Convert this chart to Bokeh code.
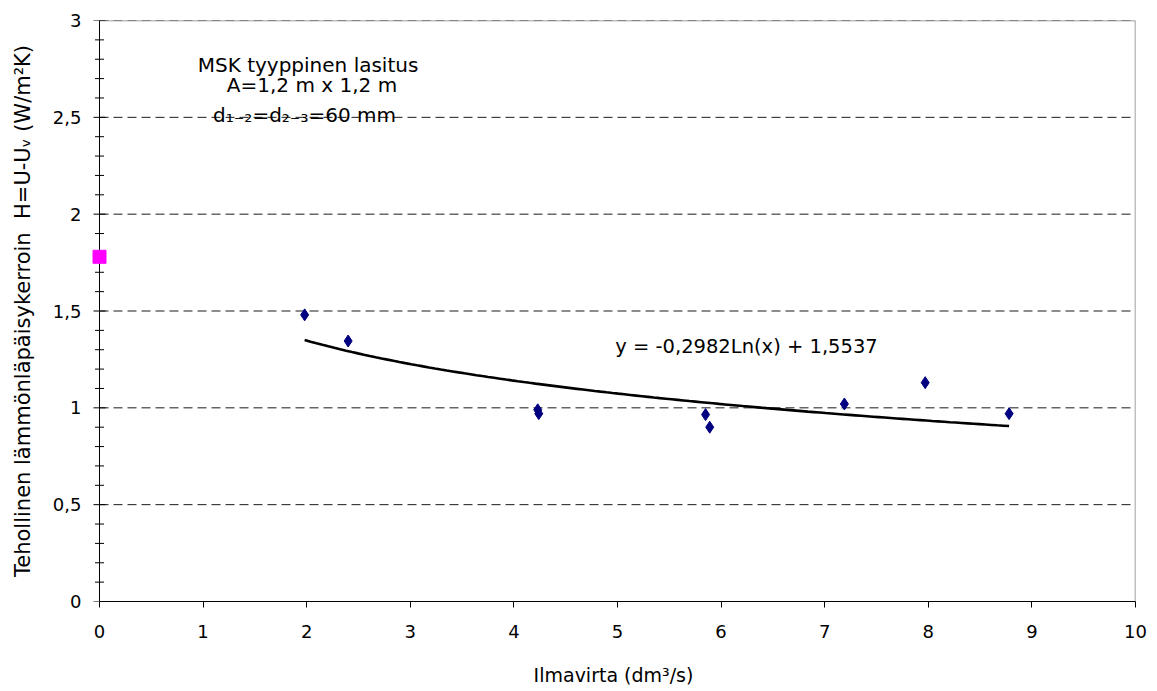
import numpy as np
from bokeh.plotting import figure
from bokeh.models import Range1d, SingleIntervalTicker, CustomJSTickFormatter
from bokeh.core.properties import value
from bokeh.embed import file_html
from bokeh.resources import INLINE

# ---- data ----
airflow = [1.98, 2.40, 4.23, 4.24, 5.85, 5.89, 7.19, 7.97, 8.78]          # dm3/s
h_value = [1.48, 1.345, 0.99, 0.97, 0.965, 0.90, 1.02, 1.13, 0.97]       # W/m2K
ref_airflow = [0.0]
ref_h = [1.78]
trend_slope = -0.2982      # y = a*Ln(x) + b
trend_intercept = 1.5537
x_min, x_max, x_step = 0, 10, 1
y_min, y_max, y_step, y_minor = 0, 3, 0.5, 0.1
note_lines = ["MSK tyyppinen lasitus", "A=1,2 m x 1,2 m", "d\u2081\u208b\u2082=d\u2082\u208b\u2083=60 mm"]
equation_text = "y = -0,2982Ln(x) + 1,5537"
x_title = "Ilmavirta (dm\u00b3/s)"
y_title = "Tehollinen lämmönläpäisykerroin \u00a0H=U-U\u1d65 (W/m\u00b2K)"

FONT = "DejaVu Sans"

# layout (pixels)
AXIS_LEFT_PX, AXIS_RIGHT_PX = 99, 1135
PAD_PX = 8   # small strip left of the y axis so the x=0 marker is not clipped
px_per_unit = (AXIS_RIGHT_PX - AXIS_LEFT_PX) / (x_max - x_min)
x_start = x_min - PAD_PX / px_per_unit

p = figure(width=1157, height=691, output_backend="svg", toolbar_location=None,
           x_range=Range1d(x_start, x_max), y_range=Range1d(y_min, y_max),
           min_border_left=AXIS_LEFT_PX - PAD_PX, min_border_right=1157 - AXIS_RIGHT_PX,
           min_border_top=20, min_border_bottom=90,
           background_fill_color="white", border_fill_color="white")
p.outline_line_color = None

fmt = CustomJSTickFormatter(code="return String(Math.round(tick*10)/10).replace('.', ',');")

# x axis (bounded to the data range)
p.xaxis.ticker = SingleIntervalTicker(interval=x_step, num_minor_ticks=0)
p.xaxis.formatter = fmt
p.xaxis.bounds = (x_min, x_max)
p.xaxis.axis_line_color = "black"
p.xaxis.major_tick_line_color = "black"
p.xaxis.major_tick_in = 0
p.xaxis.major_tick_out = 6
p.xaxis.major_label_standoff = 17
p.xaxis.axis_label = x_title
p.xaxis.axis_label_text_font_size = "19px"
p.xaxis.axis_label_standoff = 23

# y axis: labels from bokeh, axis line & ticks drawn at x = 0 below
p.yaxis.ticker = SingleIntervalTicker(interval=y_step, num_minor_ticks=5)
p.yaxis.formatter = fmt
p.yaxis.axis_line_color = None
p.yaxis.major_tick_line_color = None
p.yaxis.minor_tick_line_color = None
p.yaxis.major_tick_in = 0
p.yaxis.major_tick_out = 0
p.yaxis.minor_tick_in = 0
p.yaxis.minor_tick_out = 0
p.yaxis.major_label_standoff = 10
p.yaxis.axis_label = y_title
p.yaxis.axis_label_text_font_size = "21px"
p.yaxis.axis_label_standoff = 15

for ax in (p.xaxis, p.yaxis):
    ax.major_label_text_font = FONT
    ax.major_label_text_font_size = "18px"
    ax.major_label_text_color = "black"
    ax.axis_label_text_font = FONT
    ax.axis_label_text_font_style = "normal"
    ax.axis_label_text_color = "black"

p.xgrid.visible = False
p.ygrid.visible = False

# dashed horizontal gridlines, from the y axis to the right edge
grid_y = np.arange(y_min + y_step, y_max + y_step / 2, y_step)
p.segment(x0=[x_min] * len(grid_y), y0=grid_y, x1=[x_max] * len(grid_y), y1=grid_y,
          line_color="black", line_alpha=0.9, line_dash="9 5", line_width=1)
# plot-area border (right and top), grey
p.segment(x0=[x_max, x_min], y0=[y_min, y_max], x1=[x_max, x_max], y1=[y_max, y_max],
          line_color="#808080", line_width=1.5)
# y axis line and ticks
p.segment(x0=[x_min], y0=[y_min], x1=[x_min], y1=[y_max], line_color="black", line_width=1)
major_y = np.arange(y_min, y_max + y_step / 2, y_step)
minor_y = np.array([v for v in np.arange(y_min, y_max + y_minor / 2, y_minor)
                    if abs(v / y_step - round(v / y_step)) > 1e-6])
p.scatter([x_min] * len(major_y), major_y, marker="dash", size=12, line_color="black", line_width=1)
p.scatter([x_min] * len(minor_y), minor_y, marker="dash", size=9, line_color="black", line_width=1)

# logarithmic trend line (Excel trendline, from the displayed equation)
tx = np.linspace(min(airflow), max(airflow), 120)
ty = trend_slope * np.log(tx) + trend_intercept
p.line(tx, ty, line_color="black", line_width=2.6)

# measured points
p.scatter(airflow, h_value, marker="diamond", size=12, fill_color="#000080", line_color="#000080")
# reference point at x = 0
p.scatter(ref_airflow, ref_h, marker="square", size=13, fill_color="#FF00FF", line_color="#FF00FF")

# notes
note_x = [2.013, 2.051, 1.979]
note_y = [2.772, 2.665, 2.514]
p.text(x=note_x, y=note_y, text=note_lines, text_align="center", text_baseline="alphabetic",
       text_font=value(FONT), text_font_size="20px", text_color="black")
p.text(x=[4.978], y=[1.318], text=[equation_text], text_align="left", text_baseline="alphabetic",
       text_font=value(FONT), text_font_size="19.5px", text_color="black")

open("out.html", "w").write(file_html(p, INLINE))
